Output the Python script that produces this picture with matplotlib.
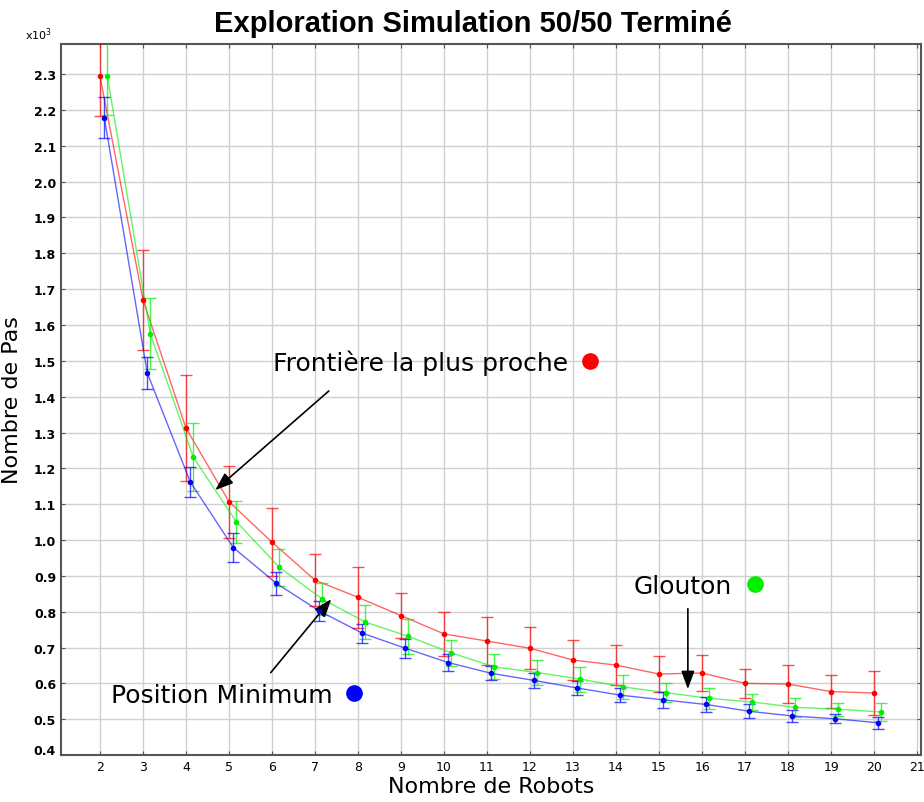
import numpy as np
import matplotlib.pyplot as plt
from matplotlib.ticker import FuncFormatter, MultipleLocator

# Nombre de robots
robots = np.arange(2, 21)

# Frontiere la plus proche (rouge)
frontiere = [2294, 1670, 1312, 1107, 994, 888, 840, 789, 738, 718,
             698, 665, 651, 626, 629, 600, 598, 577, 573]
frontiere_err = [110, 140, 148, 100, 94, 73, 86, 63, 61, 66,
                 59, 56, 56, 50, 50, 41, 52, 47, 62]

# Glouton (vert)
glouton = [2295, 1576, 1231, 1051, 924, 835, 771, 731, 685, 646,
           630, 612, 590, 574, 558, 548, 533, 528, 520]
glouton_err = [110, 100, 95, 58, 52, 44, 47, 48, 37, 35,
               35, 35, 34, 27, 30, 22, 27, 18, 24]

# Position minimum (bleu)
position_min = [2179, 1466, 1162, 979, 879, 802, 740, 698, 658, 628,
                608, 587, 567, 554, 541, 522, 509, 501, 490]
position_min_err = [58, 44, 42, 40, 32, 28, 27, 27, 24, 20,
                    20, 20, 20, 22, 20, 20, 17, 13, 16]

fig = plt.figure(figsize=(9.24, 8.03), dpi=100)
ax = fig.add_axes([0.066, 0.0585, 0.9307, 0.8854])

def serie(dx, y, err, col):
    x = robots + dx
    ax.plot(x, y, color=col, lw=1, alpha=0.6, zorder=3)
    ax.errorbar(x, y, yerr=err, fmt='none', ecolor=col, elinewidth=1,
                capsize=4, capthick=1, alpha=0.7, zorder=3)
    ax.plot(x, y, 'o', ms=3, color=col, zorder=5)

serie(0.0, frontiere, frontiere_err, '#ff0000')
serie(0.17, glouton, glouton_err, '#00ee00')
serie(0.1, position_min, position_min_err, '#0000ff')

ax.set_xlim(1.093, 21.09)
ax.set_ylim(400, 2384)
ax.xaxis.set_major_locator(MultipleLocator(1))
ax.yaxis.set_major_locator(MultipleLocator(100))
ax.xaxis.set_major_formatter(FuncFormatter(lambda v, p: '%d' % v if v >= 2 else ''))
# 0.4 est pose a la main un peu plus haut
ax.yaxis.set_major_formatter(FuncFormatter(lambda v, p: '%.1f' % (v / 1000) if v > 450 else ''))
ax.annotate('0.4', xy=(0, 400), xycoords=('axes fraction', 'data'),
            xytext=(-3.5, 3), textcoords='offset points', ha='right',
            va='center', fontsize=9, fontweight='bold', annotation_clip=False)
ax.grid(True, color='#d0d0d0', lw=1)
ax.set_axisbelow(True)
for s in ax.spines.values():
    s.set_color('#555555')
    s.set_linewidth(1.5)
ax.tick_params(labelsize=9, length=3, color='#555555', direction='in',
               top=True, right=True)
for t in ax.get_yticklabels():
    t.set_fontweight('bold')

ax.set_xlabel('Nombre de Robots', fontsize=16, labelpad=2)
ax.set_ylabel('Nombre de Pas', fontsize=16)
ax.yaxis.set_label_coords(-0.045, 0.5)
fig.text(0.027, 0.951, r'x10$^3$', fontsize=8)
fig.suptitle('Exploration Simulation 50/50 Terminé', x=0.512, y=0.988,
             fontsize=21, fontweight='bold', family='Liberation Sans')

# annotations
arr = dict(arrowstyle='-|>,head_length=1.1,head_width=0.4', color='black', lw=1.2)
ax.annotate('', xy=(4.63, 1134), xytext=(7.37, 1421), arrowprops=arr)
ax.text(12.88, 1497, 'Frontière la plus proche', fontsize=18, ha='right', va='center')
ax.plot(13.40, 1499, 'o', ms=11, color='#ff0000')

ax.annotate('', xy=(15.67, 576), xytext=(15.67, 816), arrowprops=arr)
ax.text(16.70, 872, 'Glouton', fontsize=18, ha='right', va='center')
ax.plot(17.23, 877, 'o', ms=11, color='#00ee00')

ax.annotate('', xy=(7.42, 841), xytext=(5.93, 624), arrowprops=arr)
ax.text(7.42, 568, 'Position Minimum', fontsize=18, ha='right', va='center')
ax.plot(7.91, 573, 'o', ms=11, color='#0000ff')

fig.savefig('out.png', dpi=100)
